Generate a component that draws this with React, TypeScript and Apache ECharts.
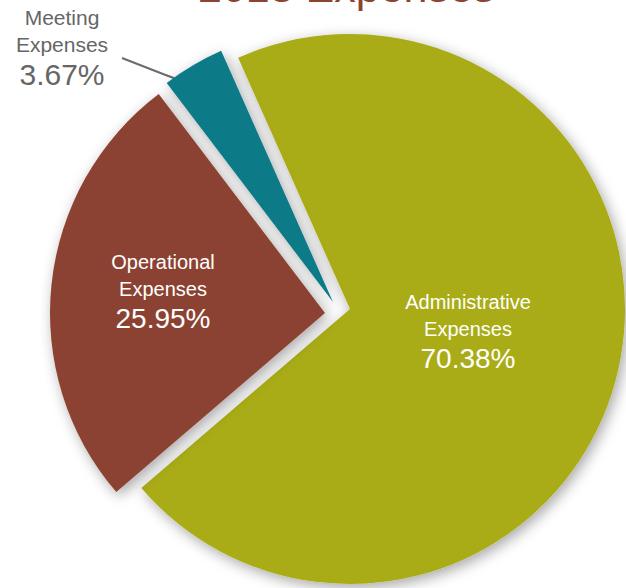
import React, { useEffect, useRef } from "react";
import * as echarts from "echarts";

const titleText = "2013 Expenses";
const categories = ["Administrative Expenses", "Operational Expenses", "Meeting Expenses"];
const labelNames = ["Administrative\nExpenses", "Operational\nExpenses", "Meeting\nExpenses"];
const values = [70.38, 25.95, 3.67];
const colors = ["#A9AC17", "#8C4331", "#117A87"];

export default function App() {
  const ref = useRef<HTMLDivElement>(null);
  useEffect(() => {
    if (!ref.current) return;
    const chart = echarts.init(ref.current, null, { renderer: "svg" });
    const font = "'Liberation Sans', 'DejaVu Sans', sans-serif";
    // each slice drawn from its own (exploded) centre
    const centers: [number, number][] = [
      [350, 309],
      [325, 313],
      [333, 302],
    ];
    const labelPos: [number, number][] = [
      [468, 331],
      [163, 291],
      [62, 47],
    ];
    const makeSeries = (k: number) => ({
      type: "pie",
      center: centers[k],
      radius: [0, 275],
      startAngle: 114,
      clockwise: true,
      silent: true,
      z: 2 + k,
      avoidLabelOverlap: false,
      emphasis: { disabled: true },
      labelLayout: (params: any) => {
        if (params.dataIndex !== k) return {};
        const p = labelPos[k];
        const res: any = { x: p[0], y: p[1], align: "center", verticalAlign: "middle" };
        if (k === 2) {
          res.labelLinePoints = [
            [203, 89],
            [163, 74],
            [122, 58],
          ];
        }
        return res;
      },
      data: categories.map((c, i) => {
        const on = i === k;
        const outside = i === 2;
        return {
          name: c,
          value: values[i],
          itemStyle: on
            ? {
                color: colors[i],
                shadowBlur: 14,
                shadowColor: "rgba(0,0,0,0.35)",
                shadowOffsetX: 3,
                shadowOffsetY: 4,
              }
            : { color: "rgba(0,0,0,0)", shadowBlur: 0, shadowColor: "rgba(0,0,0,0)" },
          label: on
            ? {
                show: true,
                position: outside ? "outside" : "inside",
                formatter: () => `{a|${labelNames[i]}}\n{b|${values[i].toFixed(2)}%}`,
                rich: {
                  a: {
                    color: outside ? "#666666" : "#ffffff",
                    fontSize: outside ? 21 : 20,
                    lineHeight: 27,
                    fontFamily: font,
                    align: "center",
                  },
                  b: {
                    color: outside ? "#666666" : "#ffffff",
                    fontSize: outside ? 30 : 28,
                    lineHeight: 32,
                    fontFamily: font,
                    align: "center",
                  },
                },
              }
            : { show: false },
          labelLine:
            on && outside
              ? { show: true, lineStyle: { color: "#6b6b6b", width: 2 } }
              : { show: false },
        };
      }),
    });
    chart.setOption({
      animation: false,
      backgroundColor: "#ffffff",
      title: {
        text: titleText,
        left: 193,
        top: -40,
        textStyle: { color: "#8C4331", fontSize: 43, fontWeight: "normal", fontFamily: font },
      },
      series: [makeSeries(0), makeSeries(1), makeSeries(2)],
    });
    return () => chart.dispose();
  }, []);
  return (
    <div
      ref={ref}
      style={{ position: "fixed", left: 0, top: 0, width: 626, height: 588 }}
    />
  );
}
